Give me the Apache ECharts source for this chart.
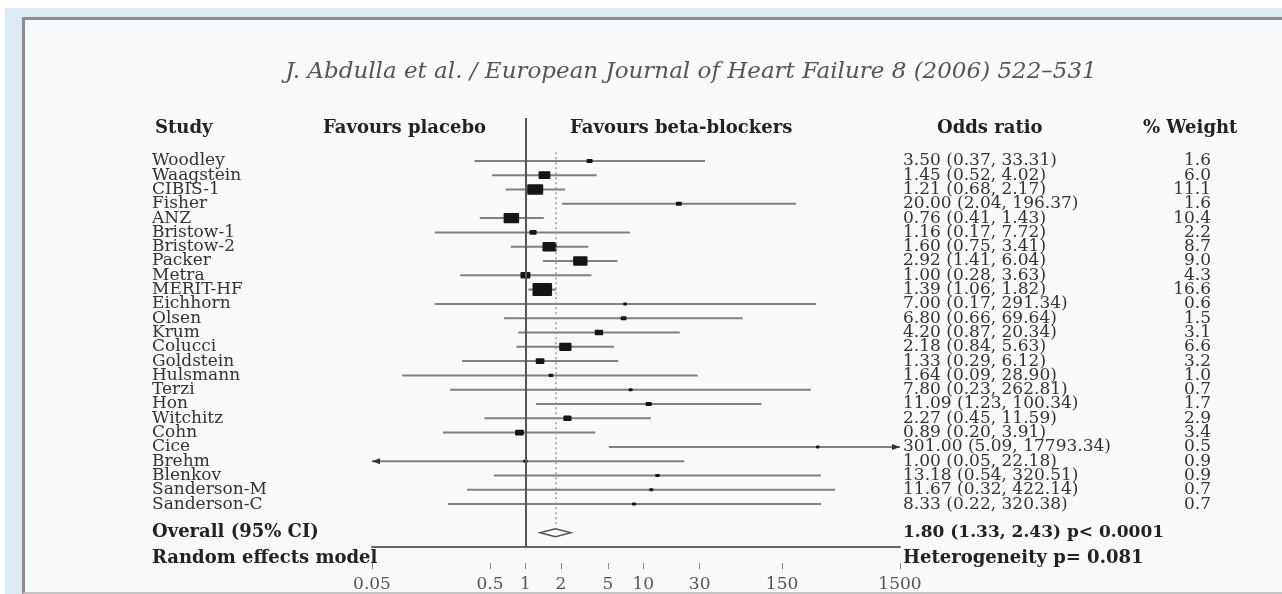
<!DOCTYPE html>
<html>
  <head>
    <meta charset="utf-8" />
    <script src="https://cdn.jsdelivr.net/npm/echarts@6.0.0/dist/echarts.min.js"></script>
    <style>
      body { margin: 0; background: #fff; }
      #band { position: absolute; left: 5px; top: 8px; width: 1277px; height: 586px; background: #dcebf3; }
      #panel { position: absolute; left: 22px; top: 17px; width: 1257px; height: 572px; background: #f7f9fa;
               border-left: 3px solid #8e8e8e; border-top: 3px solid #8e8e8e; border-bottom: 2px solid #c4c4c4; }
      #main { position: absolute; left: 0; top: 0; width: 1282px; height: 594px; }
    </style>
  </head>
  <body>
    <div id="band"></div>
    <div id="panel"></div>
    <div id="main"></div>
    <script type="text/javascript">
      var myChart = echarts.init(document.getElementById('main'));

      // study rows, top to bottom
      const studies = ['Woodley', 'Waagstein', 'CIBIS-1', 'Fisher', 'ANZ', 'Bristow-1', 'Bristow-2', 'Packer',
        'Metra', 'MERIT-HF', 'Eichhorn', 'Olsen', 'Krum', 'Colucci', 'Goldstein', 'Hulsmann', 'Terzi', 'Hon',
        'Witchitz', 'Cohn', 'Cice', 'Brehm', 'Blenkov', 'Sanderson-M', 'Sanderson-C'];
      const oddsRatio = [3.50, 1.45, 1.21, 20.00, 0.76, 1.16, 1.60, 2.92, 1.00, 1.39, 7.00, 6.80, 4.20, 2.18,
        1.33, 1.64, 7.80, 11.09, 2.27, 0.89, 301.00, 1.00, 13.18, 11.67, 8.33];
      const ciLow = [0.37, 0.52, 0.68, 2.04, 0.41, 0.17, 0.75, 1.41, 0.28, 1.06, 0.17, 0.66, 0.87, 0.84,
        0.29, 0.09, 0.23, 1.23, 0.45, 0.20, 5.09, 0.05, 0.54, 0.32, 0.22];
      const ciHigh = [33.31, 4.02, 2.17, 196.37, 1.43, 7.72, 3.41, 6.04, 3.63, 1.82, 291.34, 69.64, 20.34, 5.63,
        6.12, 28.90, 262.81, 100.34, 11.59, 3.91, 17793.34, 22.18, 320.51, 422.14, 320.38];
      const weights = [1.6, 6.0, 11.1, 1.6, 10.4, 2.2, 8.7, 9.0, 4.3, 16.6, 0.6, 1.5, 3.1, 6.6, 3.2, 1.0, 0.7,
        1.7, 2.9, 3.4, 0.5, 0.9, 0.9, 0.7, 0.7];
      // overall: estimate, low, high
      const overall = [1.80, 1.33, 2.43];
      const overallP = '< 0.0001';
      const heterogeneityP = '0.081';
      const tickValues = [0.05, 0.5, 1, 2, 5, 10, 30, 150, 1500];

      const xMin = 0.05, xMax = 1500;
      const overallRow = studies.length + 1;
      const serif = '"DejaVu Serif", "Liberation Serif", serif';
      const txt = '#333';

      function orText(i) {
        return oddsRatio[i].toFixed(2) + ' (' + ciLow[i].toFixed(2) + ', ' + ciHigh[i].toFixed(2) + ')';
      }

      let studyData = studies.map((s, i) => [oddsRatio[i], i, ciLow[i], ciHigh[i], weights[i]]);

      function renderStudy(params, api) {
        let x = api.value(0), row = api.value(1), lo = api.value(2), hi = api.value(3), w = api.value(4);
        let p0 = api.coord([Math.max(lo, xMin), row]);
        let p1 = api.coord([Math.min(hi, xMax), row]);
        let pc = api.coord([x, row]);
        let bw = Math.max(3, 4.8 * Math.sqrt(w)), bh = Math.max(3, 3.2 * Math.sqrt(w));
        let kids = [
          { type: 'line', shape: { x1: p0[0], y1: p0[1], x2: p1[0], y2: p1[1] },
            style: { stroke: '#808080', lineWidth: 2 } },
          { type: 'rect', shape: { x: pc[0] - bw / 2, y: pc[1] - bh / 2, width: bw, height: bh, r: 1 },
            style: { fill: '#151515' } }
        ];
        if (hi >= xMax) {
          kids.push({ type: 'polygon', shape: { points: [[p1[0], p1[1]], [p1[0] - 8, p1[1] - 3], [p1[0] - 8, p1[1] + 3]] },
            style: { fill: '#333' } });
        }
        if (lo <= xMin) {
          kids.push({ type: 'polygon', shape: { points: [[p0[0], p0[1]], [p0[0] + 8, p0[1] - 3], [p0[0] + 8, p0[1] + 3]] },
            style: { fill: '#333' } });
        }
        return { type: 'group', children: kids };
      }

      function renderDiamond(params, api) {
        let c = api.coord([api.value(0), api.value(1)]);
        let l = api.coord([api.value(2), api.value(1)]);
        let r = api.coord([api.value(3), api.value(1)]);
        return {
          type: 'polygon',
          shape: { points: [[l[0], c[1]], [c[0], c[1] - 4], [r[0], c[1]], [c[0], c[1] + 4]] },
          style: { fill: 'none', stroke: '#555', lineWidth: 1.5 }
        };
      }

      option = {
        animation: false,
        grid: { left: 372, right: 382, top: 118, bottom: 47 },
        xAxis: [
          { type: 'log', logBase: 10, min: xMin, max: xMax,
            axisLine: { show: true, onZero: false, lineStyle: { color: '#666', width: 2 } },
            axisTick: { show: false },
            axisLabel: { show: false },
            splitLine: { show: false }
          },
          { type: 'log', logBase: 10, min: xMin, max: xMax,
            position: 'bottom',
            offset: 16,
            axisLine: { show: false, onZero: false },
            axisTick: { show: true, customValues: tickValues, length: 6, lineStyle: { color: '#888' } },
            axisLabel: { customValues: tickValues, margin: 13, color: '#555', fontFamily: serif, fontSize: 17,
              formatter: v => String(v) },
            splitLine: { show: false }
          }
        ],
        yAxis: [
          { type: 'value', inverse: true, min: -3, max: 27, interval: 1,
            axisLine: { show: false }, axisTick: { show: false }, splitLine: { show: false },
            axisLabel: {
              margin: 220, align: 'left', color: txt, fontFamily: serif, fontSize: 17, lineHeight: 14,
              formatter: function (v) {
                if (v >= 0 && v < studies.length) return studies[v];
                if (v === overallRow) return '{b|Overall (95% CI)}';
                return '';
              },
              rich: { b: { fontWeight: 'bold', fontFamily: serif, fontSize: 18, color: '#222' } }
            }
          },
          { type: 'value', inverse: true, min: -3, max: 27, interval: 1, position: 'right',
            axisLine: { show: false }, axisTick: { show: false }, splitLine: { show: false },
            axisLabel: {
              margin: 3, align: 'left', color: txt, fontFamily: serif, fontSize: 17, lineHeight: 14,
              formatter: function (v) {
                if (v >= 0 && v < studies.length) return orText(v);
                if (v === overallRow) {
                  return '{b|' + overall[0].toFixed(2) + ' (' + overall[1].toFixed(2) + ', ' +
                    overall[2].toFixed(2) + ') p' + overallP + '}';
                }
                return '';
              },
              rich: { b: { fontWeight: 'bold', fontFamily: serif, fontSize: 17, color: '#222' } }
            }
          },
          { type: 'value', inverse: true, min: -3, max: 27, interval: 1, position: 'right',
            axisLine: { show: false }, axisTick: { show: false }, splitLine: { show: false },
            axisLabel: {
              margin: 311, align: 'right', color: txt, fontFamily: serif, fontSize: 17, lineHeight: 14,
              formatter: v => (v >= 0 && v < studies.length) ? weights[v].toFixed(1) : ''
            }
          }
        ],
        graphic: [
          { type: 'text', x: 691, y: 72,
            style: { text: 'J. Abdulla et al. / European Journal of Heart Failure 8 (2006) 522\u2013531',
              font: 'italic 23px ' + serif, fill: '#555', align: 'center', verticalAlign: 'middle' } },
          { type: 'text', x: 155, y: 128,
            style: { text: 'Study', font: 'bold 18px ' + serif, fill: '#222', verticalAlign: 'middle' } },
          { type: 'text', x: 323, y: 128,
            style: { text: 'Favours placebo', font: 'bold 18px ' + serif, fill: '#222', verticalAlign: 'middle' } },
          { type: 'text', x: 570, y: 128,
            style: { text: 'Favours beta-blockers', font: 'bold 18px ' + serif, fill: '#222', verticalAlign: 'middle' } },
          { type: 'text', x: 937, y: 128,
            style: { text: 'Odds ratio', font: 'bold 18px ' + serif, fill: '#222', verticalAlign: 'middle' } },
          { type: 'text', x: 1143, y: 128,
            style: { text: '% Weight', font: 'bold 18px ' + serif, fill: '#222', verticalAlign: 'middle' } },
          { type: 'text', x: 152, y: 558,
            style: { text: 'Random effects model', font: 'bold 18px ' + serif, fill: '#222', verticalAlign: 'middle' } },
          { type: 'text', x: 903, y: 558,
            style: { text: 'Heterogeneity p= ' + heterogeneityP, font: 'bold 18px ' + serif, fill: '#222', verticalAlign: 'middle' } }
        ],
        series: [
          { name: 'studies',
            type: 'custom',
            renderItem: renderStudy,
            encode: { x: [0, 2, 3], y: 1 },
            data: studyData,
            markLine: {
              silent: true,
              symbol: 'none',
              label: { show: false },
              data: [
                { xAxis: 1, lineStyle: { color: '#555', width: 2, type: 'solid' } },
                [ { coord: [overall[0], -0.6], lineStyle: { color: '#999', width: 1.5, type: [2, 3] } },
                  { coord: [overall[0], overallRow - 0.4] } ]
              ]
            }
          },
          { name: 'overall',
            type: 'custom',
            renderItem: renderDiamond,
            encode: { x: [0, 2, 3], y: 1 },
            data: [[overall[0], overallRow, overall[1], overall[2]]]
          }
        ]
      };

      myChart.setOption(option);
    </script>
  </body>
</html>
